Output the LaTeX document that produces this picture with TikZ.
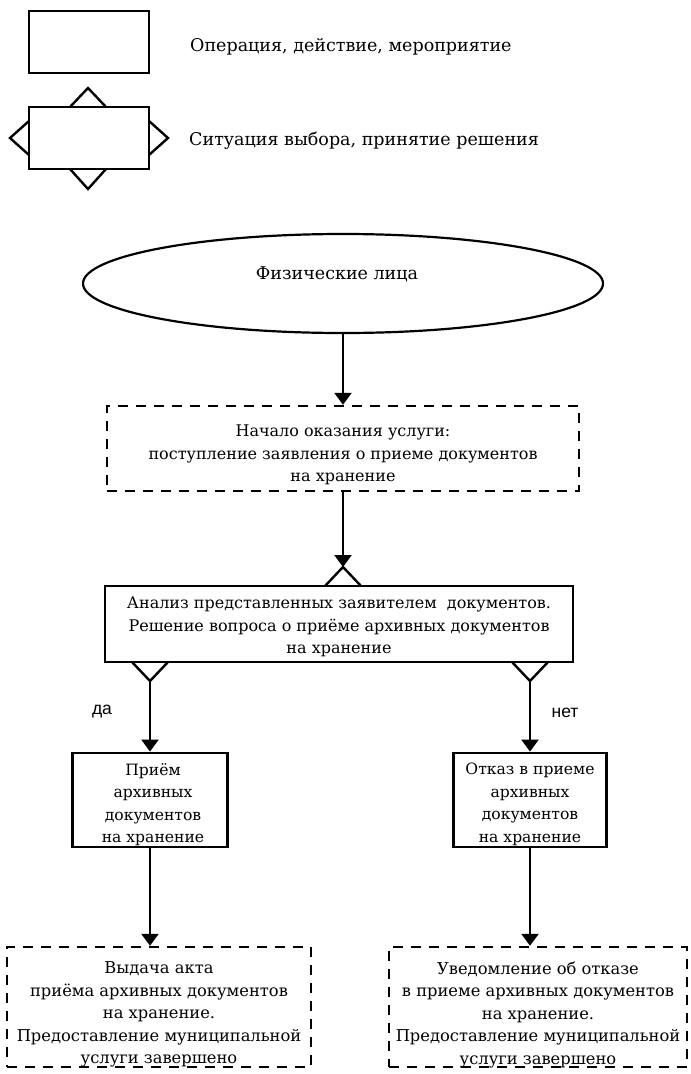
\documentclass[tikz,border=0pt]{standalone}
\usepackage{fontspec}
\setmainfont{DejaVu Serif}
\newfontfamily\lblfont{Liberation Sans}
\usetikzlibrary{arrows.meta,shapes.geometric}
\tikzset{
  txt/.style={font=\fontsize{16}{22.5}\selectfont, align=center, inner sep=0pt},
  txtS/.style={font=\fontsize{15.6}{22.5}\selectfont, align=center, inner sep=0pt},
  txtL/.style={font=\fontsize{17.5}{22.5}\selectfont, align=center, inner sep=0pt},
  opbox/.style={draw, line width=2.8pt, rectangle, inner sep=0pt},
  dbox/.style={draw, line width=2.4pt, dash pattern=on 10pt off 8pt, rectangle, inner sep=0pt},
  arr/.style={line width=2.4pt, -{Triangle[length=12pt,width=17pt]}},
  tri/.style={line width=2.4pt, line join=miter},
  lbl/.style={font=\lblfont\fontsize{17.5}{20}\selectfont, inner sep=0pt},
}
\begin{document}
\begin{tikzpicture}[x=1pt,y=-1pt]
\useasboundingbox (0,0) rectangle (691,1074);
% legend
\node[opbox, minimum width=120pt, minimum height=62pt] (lop) at (89,42) {};
\node[txtL, anchor=west] (lopt) at (190,46.5) {Операция, действие, мероприятие};
\node[opbox, minimum width=120pt, minimum height=62pt] (ldec) at (89,138) {};
\draw[tri] (70,107) -- (88,88) -- (106,107);
\draw[tri] (70,169) -- (88,189) -- (106,169);
\draw[tri] (29,121) -- (10,138) -- (29,155);
\draw[tri] (149,121) -- (168,138) -- (149,155);
\node[txtL, anchor=west] (ldect) at (189,140.5) {Ситуация выбора, принятие решения};
% ellipse
\node[draw, line width=2.2pt, ellipse, minimum width=520pt, minimum height=99pt] (el) at (343,283.5) {};
\node[txtL] (elt) at (337,274) {Физические лица};
% start
\node[dbox, minimum width=472pt, minimum height=85pt] (start) at (343,448.5) {};
\node[txt] (startt) at (343,455) {Начало оказания услуги:\\поступление заявления о приеме документов\\на хранение};
\draw[arr] (el.south) -- (start.north);
% decision
\node[opbox, minimum width=468pt, minimum height=76pt] (dec) at (339,624) {};
\node[txt] (dect) at (339,627) {Анализ представленных заявителем\ \ документов.\\Решение вопроса о приёме архивных документов\\на хранение};
\coordinate (dtop) at (343,567);
\coordinate (dl) at (150,681);
\coordinate (dr) at (530,681);
\draw[tri] (325,586) -- (dtop) -- (361,586);
\draw[tri] (132,662) -- (dl) -- (168,662);
\draw[tri] (512,662) -- (dr) -- (548,662);
\draw[arr] (start.south) -- (dtop);
% yes / no
\node[opbox, minimum width=155pt, minimum height=94pt] (acc) at (150,800) {};
\node[txtS] (acct) at (153,804.5) {Приём\\архивных\\документов\\на хранение};
\node[opbox, minimum width=153pt, minimum height=94pt] (rej) at (530,800) {};
\node[txtS] (rejt) at (530,804.5) {Отказ в приеме\\архивных\\документов\\на хранение};
\draw[arr] (dl) -- (acc.north);
\draw[arr] (dr) -- (rej.north);
\node[lbl] (yes) at (102,712) {да};
\node[lbl] (no) at (565,713) {нет};
% outcomes
\node[dbox, minimum width=304pt, minimum height=120pt] (out1) at (159,1007) {};
\node[txt, font=\fontsize{16.3}{22.5}\selectfont] (out1t) at (159,1014.5) {Выдача акта\\приёма архивных документов\\на хранение.\\Предоставление муниципальной\\услуги завершено};
\node[dbox, minimum width=298pt, minimum height=120pt] (out2) at (538,1007) {};
\node[txt, font=\fontsize{16.3}{22.5}\selectfont] (out2t) at (538,1014.5) {Уведомление об отказе\\в приеме архивных документов\\на хранение.\\Предоставление муниципальной\\услуги завершено};
\draw[arr] (acc.south) -- (acc.south |- out1.north);
\draw[arr] (rej.south) -- (rej.south |- out2.north);
\end{tikzpicture}
\end{document}
